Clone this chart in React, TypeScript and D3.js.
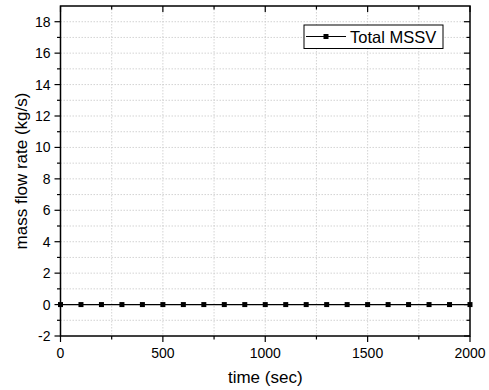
import React from "react";
import * as d3 from "d3";

const times = [0, 100, 200, 300, 400, 500, 600, 700, 800, 900, 1000, 1100, 1200, 1300, 1400, 1500, 1600, 1700, 1800, 1900, 2000];
const massFlow = [0, 0, 0, 0, 0, 0, 0, 0, 0, 0, 0, 0, 0, 0, 0, 0, 0, 0, 0, 0, 0];
const xTicks = [0, 500, 1000, 1500, 2000];
const xMinor = [250, 750, 1250, 1750];
const yTicks = [-2, 0, 2, 4, 6, 8, 10, 12, 14, 16, 18];
const yMinor = [-1, 1, 3, 5, 7, 9, 11, 13, 15, 17];
const seriesName = "Total MSSV";

export default function App() {
  const W = 489, H = 390;
  const L = 60.5, R = 470, T = 6, B = 336;
  const x = d3.scaleLinear().domain([0, 2000]).range([L, R]);
  const y = d3.scaleLinear().domain([-2, 19]).range([B, T]);
  const line = d3.line<number>().x((_, i) => x(times[i])).y((d) => y(d));
  const font = "Arial, 'Liberation Sans', sans-serif";
  return (
    <svg width={W} height={H} style={{ position: "absolute", left: 0, top: 0 }} fontFamily={font}>
      <rect width={W} height={H} fill="#fff" />
      {/* grid */}
      {[...xTicks, ...xMinor].filter((v) => v > 0 && v < 2000).map((v) => (
        <line key={"gx" + v} x1={x(v)} x2={x(v)} y1={T} y2={B} stroke="#c8c8c8" strokeWidth={0.8} strokeDasharray="1.5,1.5" />
      ))}
      {[...yTicks, ...yMinor].filter((v) => v > -2).map((v) => (
        <line key={"gy" + v} x1={L} x2={R} y1={y(v)} y2={y(v)} stroke="#c8c8c8" strokeWidth={0.8} strokeDasharray="1.5,1.5" />
      ))}
      {/* frame */}
      <rect x={L} y={T} width={R - L} height={B - T} fill="none" stroke="#000" strokeWidth={1.5} />
      {/* x ticks */}
      {xTicks.map((v) => (
        <g key={"xt" + v}>
          <line x1={x(v)} x2={x(v)} y1={B} y2={B + 6} stroke="#000" strokeWidth={1.2} />
          <line x1={x(v)} x2={x(v)} y1={T} y2={T + 6} stroke="#000" strokeWidth={1.2} />
          <text x={x(v)} y={B + 22} textAnchor="middle" fontSize={14}>{v}</text>
        </g>
      ))}
      {xMinor.map((v) => (
        <g key={"xm" + v}>
          <line x1={x(v)} x2={x(v)} y1={B} y2={B + 3.5} stroke="#000" strokeWidth={1.2} />
          <line x1={x(v)} x2={x(v)} y1={T} y2={T + 3.5} stroke="#000" strokeWidth={1.2} />
        </g>
      ))}
      {yTicks.map((v) => (
        <g key={"yt" + v}>
          <line x1={L - 6} x2={L} y1={y(v)} y2={y(v)} stroke="#000" strokeWidth={1.2} />
          <line x1={R - 6} x2={R} y1={y(v)} y2={y(v)} stroke="#000" strokeWidth={1.2} />
          <text x={L - 10} y={y(v) + 5} textAnchor="end" fontSize={14}>{v}</text>
        </g>
      ))}
      {yMinor.map((v) => (
        <g key={"ym" + v}>
          <line x1={L - 3.5} x2={L} y1={y(v)} y2={y(v)} stroke="#000" strokeWidth={1.2} />
          <line x1={R - 3.5} x2={R} y1={y(v)} y2={y(v)} stroke="#000" strokeWidth={1.2} />
        </g>
      ))}
      {/* series */}
      <path d={line(massFlow) || ""} fill="none" stroke="#000" strokeWidth={1.2} />
      {massFlow.map((d, i) => (
        <rect key={"m" + i} x={x(times[i]) - 2.5} y={y(d) - 2.5} width={5} height={5} fill="#000" />
      ))}
      {/* legend */}
      <rect x={304} y={25} width={139} height={23.5} fill="#fff" stroke="#000" strokeWidth={1} />
      <line x1={306} x2={346} y1={36.5} y2={36.5} stroke="#000" strokeWidth={1.2} />
      <rect x={323.5} y={34} width={5} height={5} fill="#000" />
      <text x={350} y={42.5} fontSize={16.5}>{seriesName}</text>
      {/* axis labels */}
      <text x={(L + R) / 2} y={383} textAnchor="middle" fontSize={17}>time (sec)</text>
      <text transform={`translate(27,${(T + B) / 2}) rotate(-90)`} textAnchor="middle" fontSize={17}>mass flow rate (kg/s)</text>
    </svg>
  );
}
